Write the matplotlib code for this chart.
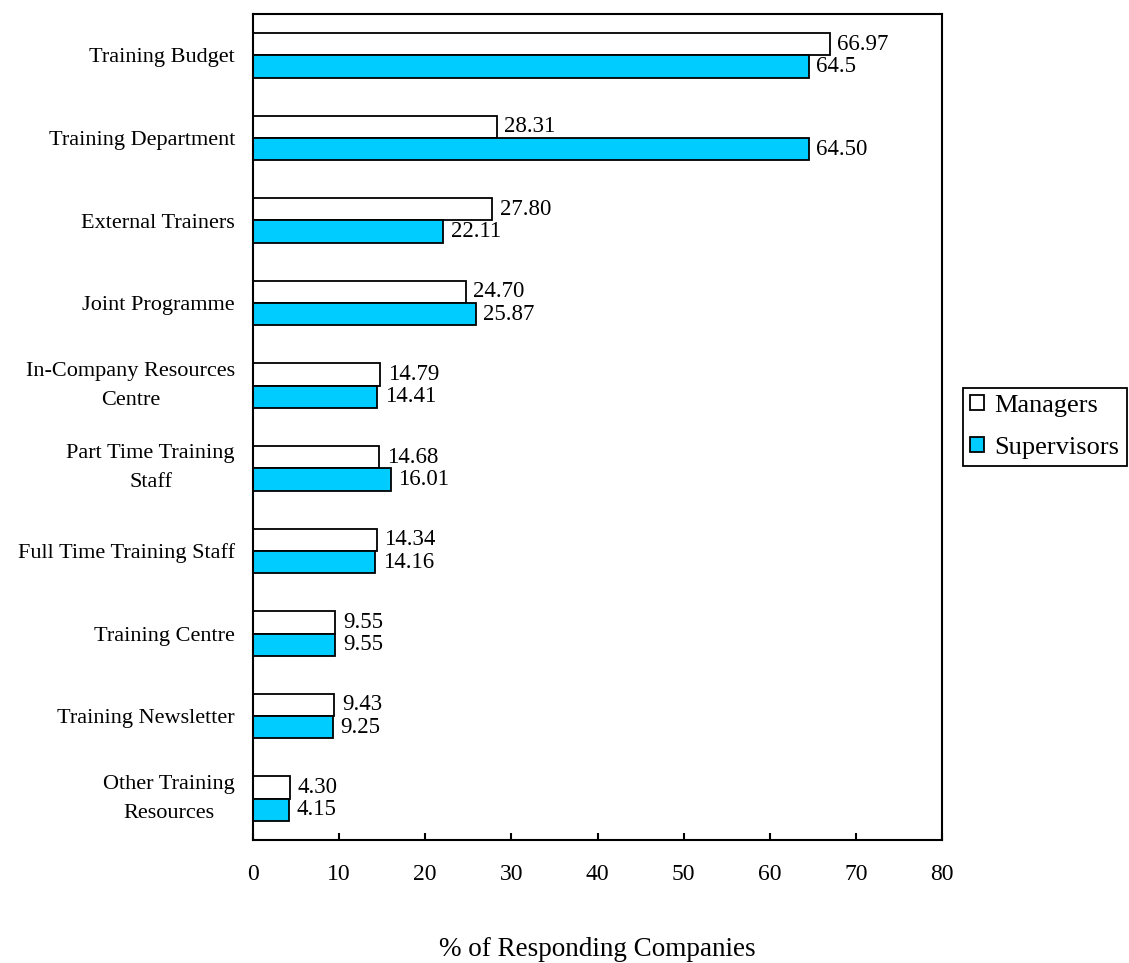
import matplotlib
matplotlib.use("Agg")
import matplotlib.pyplot as plt
import numpy as np
from matplotlib.patches import Patch

plt.rcParams['font.family'] = ['Liberation Serif', 'DejaVu Serif']

categories = [
    "Training Budget",
    "Training Department",
    "External Trainers",
    "Joint Programme",
    "In-Company Resources\nCentre",
    "Part Time Training\nStaff",
    "Full Time Training Staff",
    "Training Centre",
    "Training Newsletter",
    "Other Training\nResources",
]
managers = [66.97, 28.31, 27.80, 24.70, 14.79, 14.68, 14.34, 9.55, 9.43, 4.30]
supervisors = [64.5, 64.50, 22.11, 25.87, 14.41, 16.01, 14.16, 9.55, 9.25, 4.15]
# decimals shown in each value label
managers_decimals = [2] * 10
supervisors_decimals = [1, 2, 2, 2, 2, 2, 2, 2, 2, 2]
series_names = ["Managers", "Supervisors"]
xticks = [0, 10, 20, 30, 40, 50, 60, 70, 80]
xlabel = "% of Responding Companies"

W, H = 1129, 963
fig = plt.figure(figsize=(W / 100, H / 100), dpi=100)
ax = fig.add_axes([253 / W, (H - 840) / H, (942 - 253) / W, (840 - 14) / H])

y = np.arange(len(categories))
h = 0.27
ax.barh(y - h / 2, managers, height=h, color="white", edgecolor="black", linewidth=1.3)
ax.barh(y + h / 2, supervisors, height=h, color="#00CCFF", edgecolor="black", linewidth=1.3)

for yi, v, d in zip(y, managers, managers_decimals):
    ax.annotate(f"{v:.{d}f}", (v, yi - h / 2), xytext=(5.5, 0), textcoords="offset points",
                ha="left", va="center", fontsize=16.5)
for yi, v, d in zip(y, supervisors, supervisors_decimals):
    ax.annotate(f"{v:.{d}f}", (v, yi + h / 2), xytext=(5.5, 0), textcoords="offset points",
                ha="left", va="center", fontsize=16.5)

ax.set_xlim(0, 80)
ax.set_ylim(len(categories) - 0.5, -0.5)
ax.set_xticks(xticks)
ax.set_xticklabels([str(t) for t in xticks], fontsize=17)
ax.tick_params(axis="x", direction="in", length=5, width=1.5, pad=17)
ax.set_yticks(y)
ax.set_yticklabels(categories, fontsize=16, multialignment="center", linespacing=1.7)
for lbl in ax.get_yticklabels():
    if "\n" in lbl.get_text():
        lbl.set_verticalalignment("center")
ax.tick_params(axis="y", length=0, pad=13)
for s in ax.spines.values():
    s.set_linewidth(1.5)

fig.text((253 + 942) / 2 / W, (H - 949) / H, xlabel, ha="center", va="center", fontsize=19.5)

handles = [Patch(facecolor="white", edgecolor="black", linewidth=1.3),
           Patch(facecolor="#00CCFF", edgecolor="black", linewidth=1.3)]
leg = fig.legend(handles, series_names, loc="center left",
                 bbox_to_anchor=(963 / W, (H - 427) / H), fontsize=19,
                 fancybox=False, framealpha=1, edgecolor="black",
                 handlelength=0.5, handleheight=0.5, handletextpad=0.4,
                 borderpad=0.28, labelspacing=0.75, borderaxespad=0)
leg.get_frame().set_linewidth(1.3)

fig.savefig("out.png", dpi=100)
